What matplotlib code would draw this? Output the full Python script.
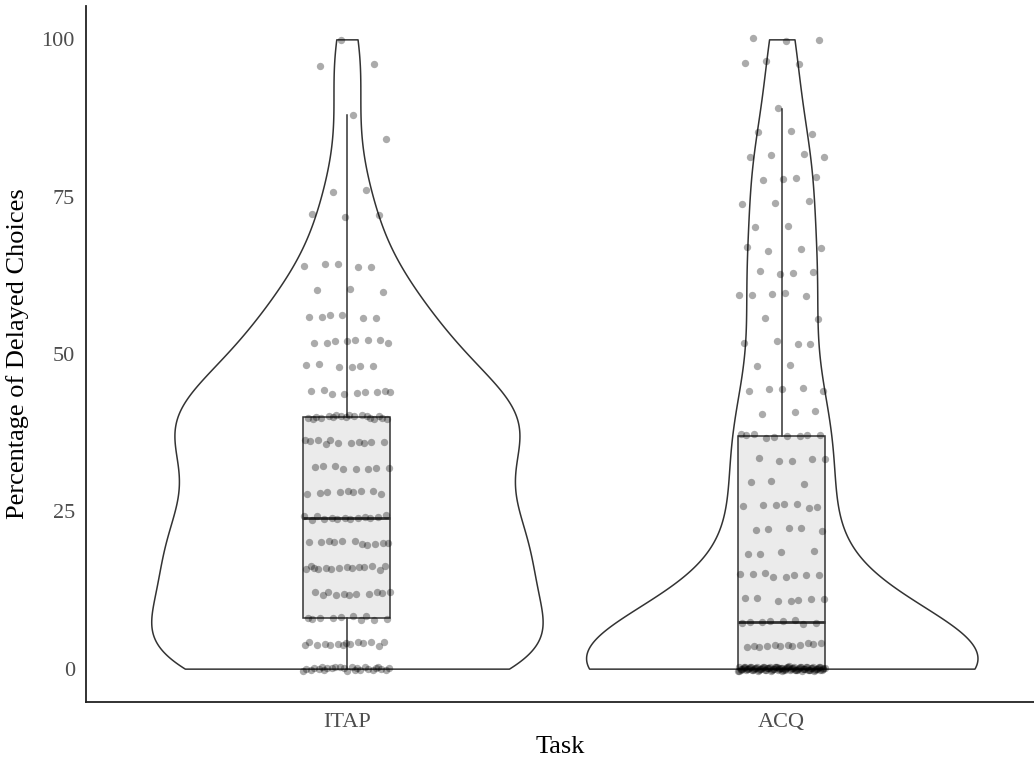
import numpy as np
import matplotlib.pyplot as plt

plt.rcParams.update(
    {
        "font.family": ["Liberation Serif", "DejaVu Serif"],
        "figure.dpi": 100,
    }
)

# values: response levels and how many points sit on each
tasks = ["ITAP", "ACQ"]

itap_levels = [0, 4, 8, 12, 16, 20, 24, 28, 32, 36, 40, 44, 48, 52, 56, 60,
               64, 72, 76, 84, 88, 96, 100]
itap_counts = [25, 14, 10, 11, 14, 11, 13, 9, 8, 11, 18, 9, 6, 8, 6, 3,
               5, 3, 2, 1, 1, 2, 1]

acq_levels = [0, 3.7, 7.4, 11.1, 14.8, 18.5, 22.2, 25.9, 29.6, 33.3, 37.0,
              40.7, 44.4, 48.1, 51.9, 55.6, 59.3, 63.0, 66.7, 70.4, 74.1,
              77.8, 81.5, 85.2, 88.9, 96.3, 100]
acq_counts = [90, 12, 8, 7, 8, 4, 5, 7, 3, 5, 9,
              3, 5, 2, 4, 2, 5, 4, 4, 2, 3,
              4, 4, 3, 1, 3, 3]

itap = np.repeat(itap_levels, itap_counts).astype(float)
acq = np.repeat(acq_levels, acq_counts).astype(float)
groups = [itap, acq]
positions = [1, 2]

LINE = "#333333"


def nrd0(kde):
    # R's bw.nrd0, expressed as a factor of the sample sd (as ggplot does)
    x = np.asarray(kde.dataset).ravel()
    sd = np.std(x, ddof=1)
    q1, q3 = np.percentile(x, [25, 75])
    bw = 0.9 * min(sd, (q3 - q1) / 1.34) * len(x) ** -0.2
    return bw / sd


def spread(n, step):
    # evenly scattered offsets in [-1, 1) for the jitter
    return (np.arange(n) * step) % 1.0 * 2 - 1


fig = plt.figure(figsize=(10.34, 7.59))
ax = fig.add_axes([86 / 1034, 1 - 702 / 759, (1034 - 86) / 1034, (702 - 6) / 759])

vp = ax.violinplot(groups, positions=positions, widths=0.9, points=512,
                   bw_method=nrd0, showextrema=False)
for body in vp["bodies"]:
    body.set_facecolor("white")
    body.set_edgecolor(LINE)
    body.set_linewidth(1.1)
    body.set_alpha(1)
    body.set_zorder(1)

ax.boxplot(groups, positions=positions, widths=0.2, patch_artist=True,
           showfliers=False, showcaps=False, whis=1.5,
           boxprops=dict(facecolor="#EBEBEB", edgecolor=LINE, linewidth=1.1),
           medianprops=dict(color=LINE, linewidth=2),
           whiskerprops=dict(color=LINE, linewidth=1.1),
           zorder=2)

for pos, vals in zip(positions, groups):
    n = len(vals)
    xs = pos + 0.1 * spread(n, 0.6180339887)
    ys = vals + 0.35 * spread(n, 0.3819660113 * 1.7)
    ax.scatter(xs, ys, s=28, color="black", alpha=0.33, linewidths=0, zorder=3)

ax.set_xlim(0.4, 2.58)
ax.set_ylim(-5.3, 105.3)
ax.set_xticks(positions)
ax.set_xticklabels(tasks)
ax.set_yticks([0, 25, 50, 75, 100])
ax.tick_params(length=0, labelsize=16, labelcolor="#4D4D4D", pad=8)

for side in ["top", "right"]:
    ax.spines[side].set_visible(False)
for side in ["left", "bottom"]:
    ax.spines[side].set_color("#222222")
    ax.spines[side].set_linewidth(1.3)

ax.set_xlabel("Task", fontsize=19, labelpad=3)
ax.set_ylabel("Percentage of Delayed Choices", fontsize=19, labelpad=9)

fig.savefig("out.png", dpi=100)
